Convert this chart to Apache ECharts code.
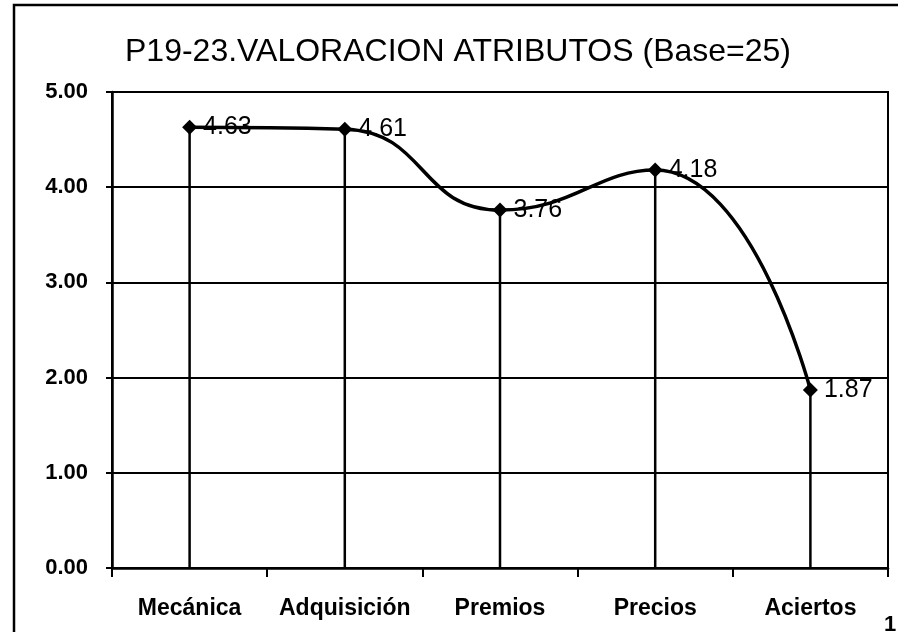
<!DOCTYPE html>
<html>
<head>
<meta charset="utf-8">
<script src="https://cdn.jsdelivr.net/npm/echarts@6/dist/echarts.min.js"></script>
<style>
  html, body { margin: 0; padding: 0; background: #fff; }
  #chart { width: 898px; height: 632px; }
</style>
</head>
<body>
<div id="chart"></div>
<script>
// datos
const categories = ["Mecánica", "Adquisición", "Premios", "Precios", "Aciertos"];
const valores = [4.63, 4.61, 3.76, 4.18, 1.87];
const yTicks = [0, 1, 2, 3, 4, 5];

const chart = echarts.init(document.getElementById("chart"));

const option = {
    backgroundColor: "#fff",
    animation: false,
    title: {
        text: "P19-23.VALORACION ATRIBUTOS (Base=25)",
        left: 120,
        top: 31,
        textStyle: {
            fontFamily: "Liberation Sans",
            fontSize: 32,
            fontWeight: "normal",
            color: "#000"
        }
    },
    grid: {
        left: 112,
        right: 10,
        top: 92,
        bottom: 64,
        show: true,
        borderColor: "#000",
        borderWidth: 2
    },
    xAxis: {
        type: "category",
        data: categories,
        boundaryGap: true,
        axisLine: { lineStyle: { color: "#000", width: 2.5 } },
        axisTick: { show: true, interval: 0, length: 9, lineStyle: { color: "#000", width: 2 } },
        axisLabel: {
            interval: 0,
            margin: 29,
            color: "#000",
            fontFamily: "Liberation Sans",
            fontSize: 23,
            fontWeight: "bold"
        },
        splitLine: { show: false }
    },
    yAxis: {
        type: "value",
        min: yTicks[0],
        max: yTicks[yTicks.length - 1],
        interval: 1,
        axisLine: { show: true, lineStyle: { color: "#000", width: 2.5 } },
        axisTick: { show: true, length: 6, lineStyle: { color: "#000", width: 2 } },
        axisLabel: {
            margin: 24,
            color: "#000",
            fontFamily: "Liberation Sans",
            fontSize: 22,
            fontWeight: "bold",
            formatter: v => v.toFixed(2)
        },
        splitLine: { show: true, lineStyle: { color: "#000", width: 2 } }
    },
    series: [
        {
            // lineas verticales desde cada punto hasta el eje
            type: "bar",
            data: valores,
            barWidth: 2.5,
            silent: true,
            itemStyle: { color: "#000" },
            z: 1
        },
        {
            type: "line",
            data: valores,
            smooth: 0.5,
            symbol: "diamond",
            symbolSize: 15,
            lineStyle: { color: "#000", width: 3.5 },
            itemStyle: { color: "#000" },
            label: {
                show: true,
                position: "right",
                distance: 6,
                color: "#000",
                fontFamily: "Liberation Sans",
                fontSize: 25,
                formatter: p => p.value.toFixed(2)
            },
            z: 3
        }
    ],
    graphic: [
        {
            type: "rect",
            shape: { x: 14, y: 5, width: 900, height: 700 },
            style: { fill: null, stroke: "#000", lineWidth: 2.5 },
            silent: true
        },
        {
            type: "text",
            left: 884,
            top: 614,
            style: { text: "1", fontFamily: "Liberation Sans", fontSize: 22, fontWeight: "bold", fill: "#000" }
        }
    ]
};

chart.setOption(option);
</script>
</body>
</html>
